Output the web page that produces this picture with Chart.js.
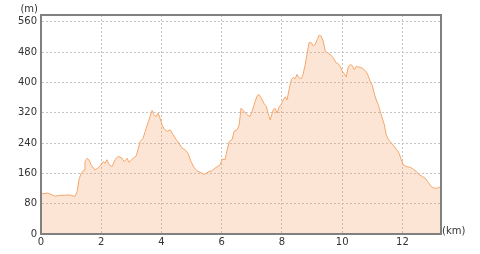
<!DOCTYPE html>
<html>
<head>
<meta charset="utf-8">
<script src="https://cdn.jsdelivr.net/npm/chart.js@4"></script>
<style>
  body { margin: 0; background: #fff; }
  canvas { display: block; }
</style>
</head>
<body>
<canvas id="grafico" width="480" height="254"></canvas>
<script>
// distance (km) and elevation (m)
const distancias = [
  0, 0.23, 0.47, 0.63, 0.96, 1.13, 1.20, 1.26, 1.33, 1.43, 1.46, 1.53, 1.59, 1.66, 1.79, 1.89,
  1.99, 2.06, 2.13, 2.19, 2.26, 2.36, 2.46, 2.56, 2.69, 2.76, 2.86, 2.92, 3.06, 3.16, 3.22, 3.29,
  3.39, 3.46, 3.55, 3.62, 3.69, 3.75, 3.82, 3.89, 3.95, 4.02, 4.09, 4.19, 4.29, 4.39, 4.49, 4.58,
  4.68, 4.78, 4.88, 4.98, 5.08, 5.18, 5.28, 5.42, 5.55, 5.68, 5.78, 5.95, 6.01, 6.11, 6.18, 6.25,
  6.35, 6.41, 6.51, 6.58, 6.64, 6.74, 6.84, 6.94, 7.01, 7.11, 7.18, 7.24, 7.31, 7.41, 7.48, 7.54,
  7.61, 7.71, 7.77, 7.84, 7.91, 7.97, 8.04, 8.11, 8.17, 8.24, 8.31, 8.37, 8.44, 8.50, 8.57, 8.64,
  8.70, 8.77, 8.84, 8.90, 8.97, 9.04, 9.10, 9.17, 9.24, 9.30, 9.37, 9.44, 9.53, 9.63, 9.70, 9.80,
  9.87, 9.93, 10.00, 10.07, 10.13, 10.20, 10.27, 10.33, 10.40, 10.47, 10.53, 10.63, 10.70, 10.80,
  10.86, 10.93, 11.00, 11.06, 11.13, 11.20, 11.26, 11.33, 11.40, 11.46, 11.53, 11.59, 11.69, 11.79,
  11.89, 11.96, 12.03, 12.13, 12.26, 12.36, 12.46, 12.56, 12.66, 12.76, 12.86, 12.96, 13.06, 13.16, 13.26
];
const altitudes = [
  106, 108, 100, 102, 103, 99, 112, 143, 160, 169, 191, 200, 196, 183, 169, 174,
  183, 191, 187, 196, 183, 178, 196, 205, 200, 191, 200, 189, 200, 206, 222, 244,
  253, 271, 293, 310, 326, 315, 310, 319, 306, 288, 277, 271, 275, 262, 249, 240,
  227, 222, 213, 191, 176, 167, 163, 157, 164, 167, 174, 183, 198, 196, 222, 244,
  250, 271, 275, 288, 332, 324, 315, 310, 324, 350, 365, 368, 359, 344, 337, 319,
  301, 328, 332, 319, 337, 341, 354, 362, 354, 383, 407, 413, 410, 421, 412, 410,
  421, 447, 478, 505, 505, 496, 500, 513, 525, 522, 509, 481, 478, 472, 465, 452,
  449, 443, 430, 423, 414, 441, 447, 445, 434, 443, 441, 439, 436, 428,
  418, 403, 392, 372, 354, 341, 324, 306, 288, 262, 250, 244, 235, 224,
  213, 196, 183, 178, 176, 171, 165, 156, 152, 147, 136, 125, 121, 121, 125
];

const xMax = 13.28;
const yMax = 578;
const passo = { x: 2, y: 80 };

const fonte = { family: "'DejaVu Sans', Verdana, sans-serif", size: 10 };
const corTexto = "#333333";
const corGrade = "#c4c4c4";
const corEixo = "#808080";

// moldura (topo e direita) + rotulos das unidades
const moldura = {
  id: 'moldura',
  afterDatasetsDraw(chart) {
    const { ctx, chartArea: a } = chart;
    ctx.save();
    ctx.strokeStyle = corEixo;
    ctx.lineWidth = 2;
    ctx.strokeRect(a.left, a.top, a.right - a.left, a.bottom - a.top);
    ctx.fillStyle = corTexto;
    ctx.font = "10px 'DejaVu Sans', Verdana, sans-serif";
    ctx.textBaseline = 'middle';
    ctx.textAlign = 'right';
    ctx.fillText('(m)', a.left - 3, 9);
    ctx.textAlign = 'left';
    ctx.fillText('(km)', a.right + 1, 231);
    ctx.restore();
  }
};

const ctx = document.getElementById('grafico').getContext('2d');

new Chart(ctx, {
  type: 'line',
  data: {
    datasets: [{
      data: distancias.map((d, i) => ({ x: d, y: altitudes[i] })),
      borderColor: "#f5a76c",
      backgroundColor: "rgba(245, 160, 100, 0.28)", // deixa a grade aparecer por baixo
      borderWidth: 1,
      fill: 'origin',
      pointRadius: 0,
      tension: 0
    }]
  },
  options: {
    responsive: false,
    animation: false,
    layout: { padding: { top: 15, right: 39, left: 0, bottom: 0 } },
    plugins: { legend: { display: false }, tooltip: { enabled: false } },
    scales: {
      x: {
        type: 'linear',
        min: 0,
        max: xMax,
        afterFit(scale) { scale.height = 20; },
        ticks: {
          stepSize: passo.x,
          includeBounds: false,
          padding: 2,
          color: corTexto,
          font: fonte,
          maxRotation: 0
        },
        grid: { color: corGrade, drawTicks: false },
        border: { color: corEixo, width: 2, dash: [2, 2] }
      },
      y: {
        min: 0,
        max: yMax,
        afterFit(scale) { scale.width = 41; },
        ticks: {
          stepSize: passo.y,
          includeBounds: false,
          padding: 4,
          color: corTexto,
          font: fonte
        },
        grid: { color: corGrade, drawTicks: false },
        border: { color: corEixo, width: 2, dash: [2, 2] }
      }
    }
  },
  plugins: [moldura]
});
</script>
</body>
</html>
